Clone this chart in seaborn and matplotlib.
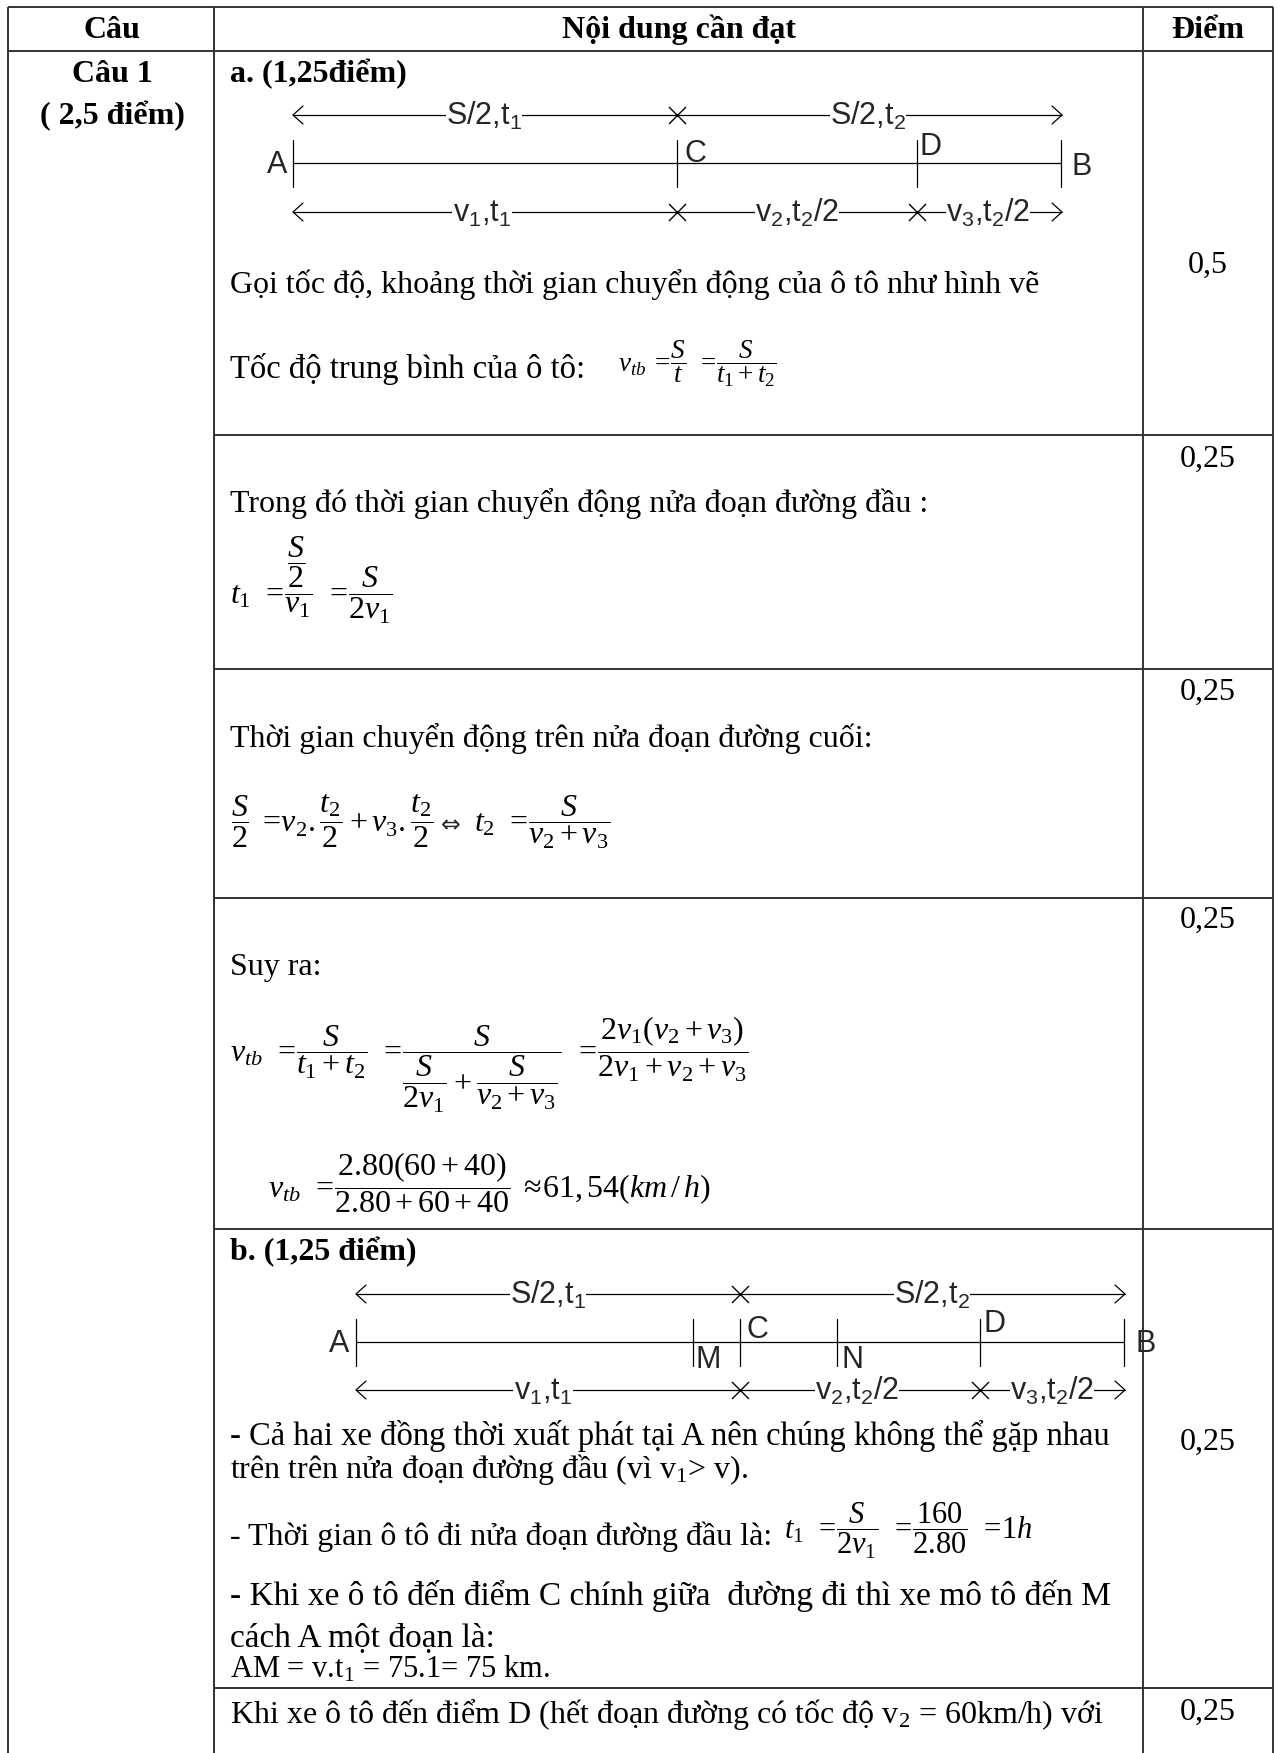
import matplotlib
matplotlib.use("Agg")
import matplotlib.pyplot as plt
from matplotlib.patches import Rectangle
import seaborn as sns

# ---------------- content ----------------
headers = ["Câu", "Nội dung cần đạt", "Điểm"]
question = ["Câu 1", "( 2,5 điểm)"]
scores = ["0,5", "0,25", "0,25", "0,25", "0,25", "0,25"]

part_a_title = "a. (1,25điểm)"
part_b_title = "b. (1,25 điểm)"

row1_lines = ["Gọi tốc độ, khoảng thời gian chuyển động của ô tô như hình vẽ",
              "Tốc độ trung bình của ô tô:"]
row1_formula = r"$v_{tb}\;=\!\dfrac{S}{t}\;\,=\!\dfrac{S}{t_1+t_2}$"
row2_line = "Trong đó thời gian chuyển động nửa đoạn đường đầu :"
row2_formula = r"$t_1\;\,=\!\dfrac{\dfrac{S}{2}}{v_1}\;\,=\!\dfrac{S}{2v_1}$"
row3_line = "Thời gian chuyển động trên nửa đoạn đường cuối:"
row3_formula_left = r"$\dfrac{S}{2}\;=\!v_2.\dfrac{t_2}{2}+v_3.\dfrac{t_2}{2}$"
row3_equiv = "⇔"
row3_formula_right = r"$t_2\;\,=\!\dfrac{S}{v_2+v_3}$"
row4_line = "Suy ra:"
row4_formula = (r"$v_{tb}\;\,=\!\dfrac{S}{t_1+t_2}\;\,=\!\dfrac{S}{\dfrac{S}{2v_1}+\dfrac{S}{v_2+v_3}}"
                r"\;\,=\!\dfrac{2v_1(v_2+v_3)}{2v_1+v_2+v_3}$")
row4_result = r"$v_{tb}\;\,=\!\dfrac{2.80(60+40)}{2.80+60+40}\;\approx\!61,54(km\,/\,h)$"
row5_lines = ["- Cả hai xe đồng thời xuất phát tại A nên chúng không thể gặp nhau",
              r"trên trên nửa đoạn đường đầu (vì $\mathrm{v}_1$> v).",
              "- Thời gian ô tô đi nửa đoạn đường đầu là:",
              "- Khi xe ô tô đến điểm C chính giữa  đường đi thì xe mô tô đến M",
              "cách A một đoạn là:",
              r"AM = v.$\mathrm{t}_1$ = 75.1= 75 km."]
row5_formula = r"$t_1\;\,=\!\dfrac{S}{2v_1}\;\,=\!\dfrac{160}{2.80}\;\,=\!1h$"
row6_line = r"Khi xe ô tô đến điểm D (hết đoạn đường có tốc độ $\mathrm{v}_2$ = 60km/h) với"

diag_a_points = ["A", "C", "D", "B"]
diag_a_top = [r"S/2,$\mathsf{t_1}$", r"S/2,$\mathsf{t_2}$"]
diag_a_bot = [r"$\mathsf{v_1}$,$\mathsf{t_1}$", r"$\mathsf{v_2}$,$\mathsf{t_2}$/2",
              r"$\mathsf{v_3}$,$\mathsf{t_2}$/2"]
diag_b_points = ["A", "M", "C", "N", "D", "B"]
diag_b_top = diag_a_top
diag_b_bot = diag_a_bot

# ---------------- style ----------------
SERIF = "Liberation Serif"
SANS = "Liberation Sans"
sns.set_theme(style="white")
plt.rcParams["font.family"] = [SERIF, "DejaVu Serif"]
plt.rcParams.update({
    "mathtext.fontset": "custom",
    "mathtext.rm": SERIF,
    "mathtext.it": SERIF + ":italic",
    "mathtext.bf": SERIF + ":bold",
    "mathtext.sf": SANS,
})

FS = 23         # body text size
MATH = 23
LAB = 22        # diagram label size
GRID = "#333333"

fig = plt.figure(figsize=(12.78, 17.53), dpi=100)
ax = fig.add_axes([0, 0, 1, 1])
ax.set_xlim(0, 1278)
ax.set_ylim(1753, 0)
ax.axis("off")


def txt(x, y, s, size=FS, **kw):
    return ax.text(x, y, s, fontsize=size, va="baseline", color="black", **kw)


def hline(x0, x1, y, lw=1.4, color=GRID):
    ax.plot([x0, x1], [y, y], color=color, lw=lw, solid_capstyle="butt")


def vline(x, y0, y1, lw=1.4, color=GRID):
    ax.plot([x, x], [y0, y1], color=color, lw=lw, solid_capstyle="butt")


# ---------------- table grid ----------------
X0, X1, X2, X3 = 8, 214, 1143, 1273
TOP, HEAD = 7, 51
row_bottoms = [435, 669, 898, 1229, 1688]

hline(X0, X3, TOP)
hline(X0, X3, HEAD)
for yb in row_bottoms:
    hline(X1, X3, yb)
for x in (X0, X1, X2, X3):
    vline(x, TOP, 1753)

# header
txt(112, 38, headers[0], weight="bold", ha="center")
txt(679, 38, headers[1], weight="bold", ha="center")
txt(1208, 38, headers[2], weight="bold", ha="center")
txt(112, 82, question[0], weight="bold", ha="center")
txt(112, 124, question[1], weight="bold", ha="center")

# scores
score_y = [273, 467, 700, 928, 1450, 1720]
for s, y in zip(scores, score_y):
    txt(1208, y, s, ha="center")


# ---------------- diagrams ----------------
def chevron(x, y, direction):
    ax.plot([x - direction * 10, x, x - direction * 10], [y - 9, y, y + 9],
            color="black", lw=0.9)


def arrow_row(x0, x1, y, crosses, labels, label_x):
    ax.plot([x0, x1], [y, y], color="black", lw=0.9, zorder=2)
    chevron(x0, y, -1)
    chevron(x1, y, 1)
    sns.scatterplot(x=crosses, y=[y] * len(crosses), marker="x", s=150,
                    color="black", linewidth=1.0, ax=ax, legend=False, zorder=3)
    for lab, lx in zip(labels, label_x):
        ax.text(lx, y + 10, lab, family=SANS, fontsize=LAB, ha="center",
                va="baseline", zorder=4,
                bbox=dict(facecolor="white", edgecolor="none", pad=0.3))


def diagram(x0, x1, ytop, ymain, ybot, top_cross, top_lab, top_x,
            bot_cross, bot_lab, bot_x, ticks, names, name_pos, clip=None):
    arrow_row(x0, x1 + 1, ytop, top_cross, top_lab, top_x)
    arrow_row(x0, x1 + 1, ybot, bot_cross, bot_lab, bot_x)
    ax.plot([x0, x1], [ymain, ymain], color="black", lw=0.9)
    for tx in ticks:
        ax.plot([tx, tx], [ymain - 23, ymain + 24], color="black", lw=0.9)
    for name, (nx, ny, ha) in zip(names, name_pos):
        t = ax.text(nx, ny, name, family=SANS, fontsize=LAB, ha=ha, va="baseline")
        if clip is not None:
            t.set_clip_path(clip)


# part a diagram
diagram(293, 1061, 115, 163, 212,
        [677], diag_a_top, [484, 868],
        [677, 917], diag_a_bot, [482, 797, 988],
        [293, 677, 917, 1061], diag_a_points,
        [(287, 173, "right"), (684, 162, "left"), (920, 155, "left"),
         (1071, 175, "left")])

# part b diagram
clip_b = Rectangle((X1, 1229), X2 - X1, 1688 - 1229, transform=ax.transData,
                   facecolor="none", edgecolor="none")
ax.add_patch(clip_b)
diagram(356, 1124, 1294, 1342, 1390,
        [740], diag_b_top, [548, 932],
        [740, 980], diag_b_bot, [543, 857, 1052],
        [356, 693, 740, 837, 980, 1124], diag_b_points,
        [(349, 1352, "right"), (696, 1368, "left"), (746, 1338, "left"),
         (842, 1368, "left"), (984, 1332, "left"), (1136, 1352, "left")],
        clip=clip_b)

# ---------------- text of rows ----------------
txt(230, 82, part_a_title, weight="bold")
txt(230, 293, row1_lines[0])
txt(230, 378, row1_lines[1], size=23.5)
txt(618, 372, row1_formula, size=19.5)

txt(230, 512, row2_line)
txt(230, 604, row2_formula, size=MATH)

txt(230, 747, row3_line)
txt(231, 832, row3_formula_left, size=MATH)
ax.text(441, 832, row3_equiv, family="DejaVu Sans", fontsize=17, va="baseline")
txt(474, 832, row3_formula_right, size=MATH)

txt(230, 975, row4_line)
txt(230, 1062, row4_formula, size=MATH)
txt(268, 1197, row4_result, size=MATH)

txt(230, 1260, part_b_title, weight="bold")
line_y = [1445, 1478, 1545, 1605, 1647, 1677]
line_size = [23.5, 23, 23, 24, 24, 22]
for s, y, fs in zip(row5_lines, line_y, line_size):
    txt(230, y, s, size=fs)
txt(784, 1539, row5_formula, size=22)

txt(230, 1723, row6_line)

fig.savefig("out.png", dpi=100)
